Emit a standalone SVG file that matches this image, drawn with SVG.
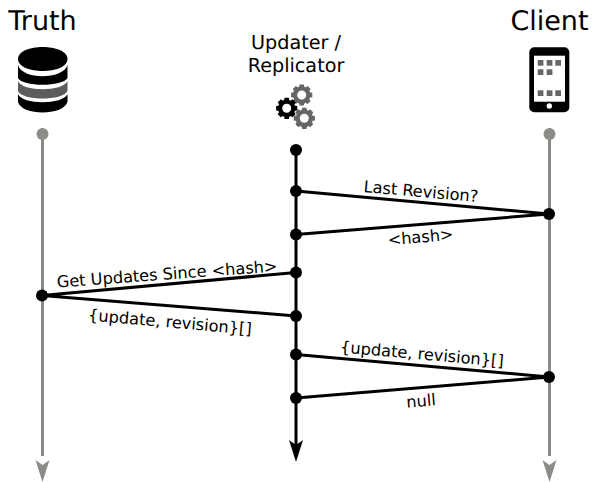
<svg xmlns="http://www.w3.org/2000/svg" xmlns:xlink="http://www.w3.org/1999/xlink" width="594" height="482" viewBox="0 0 594 482">
<style>
text{font-family:"DejaVu Sans",sans-serif;fill:#000;text-anchor:middle;text-rendering:geometricPrecision}
.t{font-size:27px}.u{font-size:19.2px}.l{font-size:16.2px}
.g{stroke:#8a8c88;stroke-width:3;fill:none}
.k{stroke:#000;stroke-width:3;fill:none}
.gd{fill:#8a8c88}.kd{fill:#000}
.gear{fill:none;stroke-width:4.2}
.teeth{stroke:none}
</style>
<defs>
<path id="ah" d="M-7-12 L0-7 L7-12 L0 10Z"/>
<g id="gear"><circle r="6.6" class="gear"/><path class="teeth" d="M-2.200-10.600h4.400l.6 4h-5.600zM-2.200 10.600h4.400l.6-4h-5.600zM-10.600-2.200v4.400l4 .6v-5.600zM10.600-2.200v4.400l-4 .6v-5.600zM-9-5.900l3.100-3.100 3.200 2.300-3.900 3.900zM9 5.900l-3.100 3.100-3.200-2.300 3.900-3.900zM5.900-9l3.100 3.100-2.300 3.200-3.900-3.900zM-5.900 9l-3.100-3.100 2.300-3.200 3.900 3.900z"/></g>
</defs>
<g id="connectors">
<path class="g" d="M42.500 134V456"/><path class="g" d="M549.500 134V456"/>
<path class="k" d="M296 150V450"/>
<path class="k" d="M296 191L549 214L296 234.500"/>
<path class="k" d="M296 272.500L42 295.500L296 316"/>
<path class="k" d="M296 354.500L549 377L296 398"/>
<use xlink:href="#ah" href="#ah" x="42.500" y="472" class="gd"/>
<use xlink:href="#ah" href="#ah" x="549.500" y="472" class="gd"/>
<use xlink:href="#ah" href="#ah" x="296" y="452" class="kd"/>
<g class="gd"><circle cx="42.500" cy="134" r="6"/><circle cx="549.500" cy="134" r="6"/></g>
<g class="kd"><circle cx="296" cy="150" r="6"/><circle cx="296" cy="191" r="6"/><circle cx="549" cy="214" r="6"/><circle cx="296" cy="234.500" r="6"/><circle cx="296" cy="272.500" r="6"/><circle cx="42" cy="295.500" r="6"/><circle cx="296" cy="316" r="6"/><circle cx="296" cy="354.500" r="6"/><circle cx="549" cy="377" r="6"/><circle cx="296" cy="398" r="6"/></g>
<text class="l" transform="translate(420.500 197) rotate(5)">Last Revision?</text>
<text class="l" transform="translate(421 242.500) rotate(-5)">&lt;hash&gt;</text>
<text class="l" transform="translate(167.500 279.500) rotate(-4.200)">Get Updates Since &lt;hash&gt;</text>
<text class="l" transform="translate(169.500 327.500) rotate(5)">{update, revision}[]</text>
<text class="l" transform="translate(421.500 359.500) rotate(5)">{update, revision}[]</text>
<text class="l" transform="translate(421.500 406.500) rotate(-5)">null</text>
</g>
<g id="truth"><text class="t" x="42.500" y="30">Truth</text>
<path d="M18 59C18 43 67.500 43 67.500 59C67.500 75 18 75 18 59Z" fill="#000"/>
<path d="M18 65C22 80 63 80 67.500 65V78C63 87 22 87 18 78Z" fill="#000"/>
<path d="M18 81C22 92 63 92 67.500 81V91C63 101 22 101 18 91Z" fill="#5c5c5c"/>
<path d="M18 94C22 105 63 105 67.500 94V102C63 116 22 116 18 102Z" fill="#000"/>
</g>
<g id="updater"><text class="u" x="296" y="49">Updater /</text><text class="u" x="296" y="72">Replicator</text>
<use xlink:href="#gear" href="#gear" x="301.700" y="95" fill="#666" stroke="#666"/>
<use xlink:href="#gear" href="#gear" x="304.300" y="118.300" fill="#666" stroke="#666"/>
<use xlink:href="#gear" href="#gear" x="286.700" y="108.300" fill="#000" stroke="#000"/>
</g>
<g id="client"><text class="t" x="549.500" y="30">Client</text>
<rect x="529.300" y="47.300" width="40" height="65" rx="5" fill="#000"/>
<rect x="534" y="55.700" width="31" height="46" fill="#fff"/>
<circle cx="549.300" cy="106" r="2.700" fill="#fff"/>
<g fill="#666"><rect x="537.700" y="60" width="5.700" height="5.700"/><rect x="546.700" y="60" width="5.700" height="5.700"/><rect x="555.300" y="60" width="5.700" height="5.700"/><rect x="537.700" y="69.300" width="5.700" height="5.700"/><rect x="546.700" y="69.300" width="5.700" height="5.700"/><rect x="537.700" y="90.300" width="5.700" height="5.700"/><rect x="546.700" y="90.300" width="5.700" height="5.700"/><rect x="555.300" y="90.300" width="5.700" height="5.700"/></g>
</g>
</svg>
